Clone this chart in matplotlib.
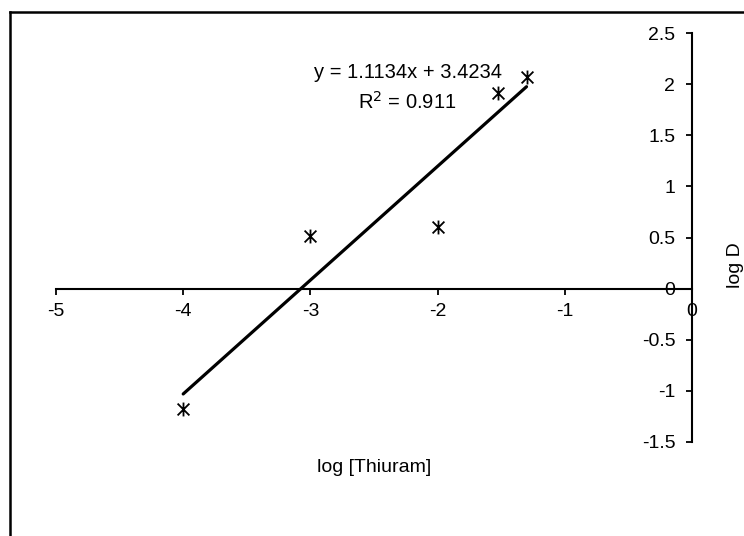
import numpy as np
import matplotlib
matplotlib.use("Agg")
import matplotlib.pyplot as plt
from matplotlib.lines import Line2D
from matplotlib.path import Path

# data
log_thiuram = [-4.0, -3.0, -2.0, -1.523, -1.301]
log_d = [-1.18, 0.51, 0.60, 1.91, 2.07]
slope = 1.1134
intercept = 3.4234
r_squared = 0.911

x_ticks = [-5, -4, -3, -2, -1, 0]
y_ticks = [-1.5, -1, -0.5, 0, 0.5, 1, 1.5, 2, 2.5]

plt.rcParams['font.family'] = ['Liberation Sans', 'DejaVu Sans']

# excel style asterisk: X with a vertical bar
star = Path([(0, -1), (0, 1), (-0.85, -0.85), (0.85, 0.85), (-0.85, 0.85), (0.85, -0.85)],
            [Path.MOVETO, Path.LINETO, Path.MOVETO, Path.LINETO, Path.MOVETO, Path.LINETO])

W, H = 744, 536
fig = plt.figure(figsize=(W / 100, H / 100), dpi=100)
ax = fig.add_axes([56 / W, (H - 442) / H, (692 - 56) / W, (442 - 33) / H])

ax.plot(log_thiuram, log_d, linestyle='none', marker=star, markersize=10,
        markeredgewidth=1.3, color='black', clip_on=False)

# trend line over the data range
xs = np.array([min(log_thiuram), max(log_thiuram)])
ax.plot(xs, slope * xs + intercept, color='black', linewidth=2.3,
        solid_capstyle='round')

ax.text(-2.235, 2.11, f"y = {slope}x + {intercept}", ha='center', va='center',
        fontsize=14.5)
ax.text(-2.235, 1.83, f"R$^2$ = {r_squared}", ha='center', va='center',
        fontsize=14.5)

ax.set_xlim(-5, 0)
ax.set_ylim(-1.5, 2.5)
ax.set_xticks(x_ticks)
ax.set_xticklabels([str(t) for t in x_ticks])
ax.set_yticks(y_ticks)
ax.set_yticklabels([f"{t:g}" for t in y_ticks])

ax.spines['top'].set_visible(False)
ax.spines['right'].set_visible(False)
ax.spines['left'].set_position(('data', 0))
ax.spines['bottom'].set_position(('data', 0))
for s in ('left', 'bottom'):
    ax.spines[s].set_linewidth(1.5)
ax.tick_params(axis='both', direction='out', length=4, width=1.3,
               labelsize=14, color='black')
ax.tick_params(axis='x', pad=6)
ax.tick_params(axis='y', pad=8)
ax.patch.set_visible(False)

fig.text(374 / W, 1 - 468 / H, "log [Thiuram]", ha='center', va='center',
         fontsize=14)
fig.text(735 / W, 1 - 265 / H, "log D", ha='center', va='center',
         rotation=90, fontsize=14)

# chart-area border (only left and top visible in the picture)
fig.add_artist(Line2D([10 / W, 10 / W], [0, 1 - 12 / H], transform=fig.transFigure,
                      color='black', linewidth=1.8))
fig.add_artist(Line2D([10 / W, 1], [1 - 12 / H, 1 - 12 / H], transform=fig.transFigure,
                      color='black', linewidth=1.8))

fig.savefig("out.png", dpi=100)
